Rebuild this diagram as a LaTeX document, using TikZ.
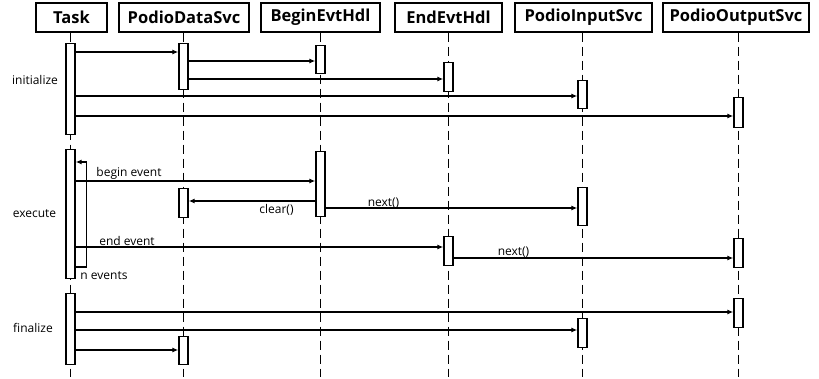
\documentclass[tikz,border=0pt]{standalone}
\usepackage{fontspec}
\setmainfont{Open Sans}
\usetikzlibrary{arrows.meta,backgrounds}
\begin{document}
\begin{tikzpicture}[x=1pt,y=-1pt,
  obj/.style={draw,line width=1.4pt,minimum height=29pt,inner sep=0pt,
    font=\fontsize{16.5}{18}\selectfont\bfseries},
  act/.style={draw,fill=white,line width=1.4pt,minimum width=9pt,inner sep=0pt,anchor=north},
  life/.style={line width=1.4pt,dash pattern=on 9pt off 5pt},
  msg/.style={line width=1.3pt,-{Latex[length=6pt,width=5pt]}},
  lbl/.style={inner sep=0pt,font=\fontsize{12}{14}\selectfont}]
\useasboundingbox (0,0) rectangle (819,379);

\node[obj,minimum width=71pt]  at (71.5,17.5)  (hTask)   {Task};
\node[obj,minimum width=130pt] at (184,17.5)   (hData)   {PodioDataSvc};
\node[obj,minimum width=119pt] at (320.5,17.5) (hBegin)  {BeginEvtHdl};
\node[obj,minimum width=107pt] at (448.5,17.5) (hEnd)    {EndEvtHdl};
\node[obj,minimum width=137pt] at (583.5,17.5) (hInput)  {PodioInputSvc};
\node[obj,minimum width=146pt] at (736,17.5)   (hOutput) {PodioOutputSvc};

% initialize
\node[act,minimum height=91pt] at (70.5,43)  (tI) {};
\node[act,minimum height=46pt] at (183.5,43) (dI) {};
\node[act,minimum height=28pt] at (320.5,45) (bI) {};
\node[act,minimum height=29pt] at (448.5,62) (eI) {};
\node[act,minimum height=28pt] at (582.5,80) (iI) {};
\node[act,minimum height=30pt] at (738.5,97) (oI) {};

% execute
\node[act,minimum height=129pt] at (70.5,149) (tE) {};
\node[act,minimum height=65pt]  at (320.5,151) (bE) {};
\node[act,minimum height=29pt]  at (183.5,188) (dE) {};
\node[act,minimum height=38pt]  at (582.5,187) (iE) {};
\node[act,minimum height=29pt]  at (448.5,236) (eE) {};
\node[act,minimum height=29pt]  at (738.5,238) (oE) {};

% finalize
\node[act,minimum height=71pt] at (70.5,293)  (tF) {};
\node[act,minimum height=29pt] at (738.5,298) (oF) {};
\node[act,minimum height=29pt] at (582.5,318) (iF) {};
\node[act,minimum height=28pt] at (183.5,336) (dF) {};

\begin{scope}[on background layer]
\draw[life] (tI.north |- hTask.south)   -- (tI.north |- 0,377);
\draw[life] (dI.north |- hData.south)   -- (dI.north |- 0,377);
\draw[life] (bI.north |- hBegin.south)  -- (bI.north |- 0,377);
\draw[life] (eI.north |- hEnd.south)    -- (eI.north |- 0,377);
\draw[life] (iI.north |- hInput.south)  -- (iI.north |- 0,377);
\draw[life] (oI.north |- hOutput.south) -- (oI.north |- 0,377);
\end{scope}

\node[lbl] at (35,80)   (lInit)  {initialize};
\node[lbl] at (34.5,214) (lExec) {execute};
\node[lbl] at (33,328)  (lFin)   {finalize};

\draw[msg] (tI.east |- 0,52)  -- (dI.west |- 0,52);
\draw[msg] (dI.east |- 0,61)  -- (bI.west |- 0,61);
\draw[msg] (dI.east |- 0,79)  -- (eI.west |- 0,79);
\draw[msg] (tI.east |- 0,96)  -- (iI.west |- 0,96);
\draw[msg] (tI.east |- 0,116) -- (oI.west |- 0,116);

\draw[msg] (tE.east |- 0,267) -- ++(11,0) |- (tE.east |- 0,162);
\node[lbl] at (104,276) (lLoop) {n events};

\draw[msg] (tE.east |- 0,181) -- (bE.west |- 0,181);
\node[lbl] at (129,173) (lBeginEv) {begin event};
\draw[msg] (bE.west |- 0,201) -- (dE.east |- 0,201);
\node[lbl] at (276.5,210) (lClear) {clear()};
\draw[msg] (bE.east |- 0,208) -- (iE.west |- 0,208);
\node[lbl] at (383.5,203) (lNext1) {next()};
\draw[msg] (tE.east |- 0,247) -- (eE.west |- 0,247);
\node[lbl] at (127,241) (lEndEv) {end event};
\draw[msg] (eE.east |- 0,258) -- (oE.west |- 0,258);
\node[lbl] at (513.5,252) (lNext2) {next()};

\draw[msg] (tF.east |- 0,312) -- (oF.west |- 0,312);
\draw[msg] (tF.east |- 0,330) -- (iF.west |- 0,330);
\draw[msg] (tF.east |- 0,350) -- (dF.west |- 0,350);

\end{tikzpicture}
\end{document}
